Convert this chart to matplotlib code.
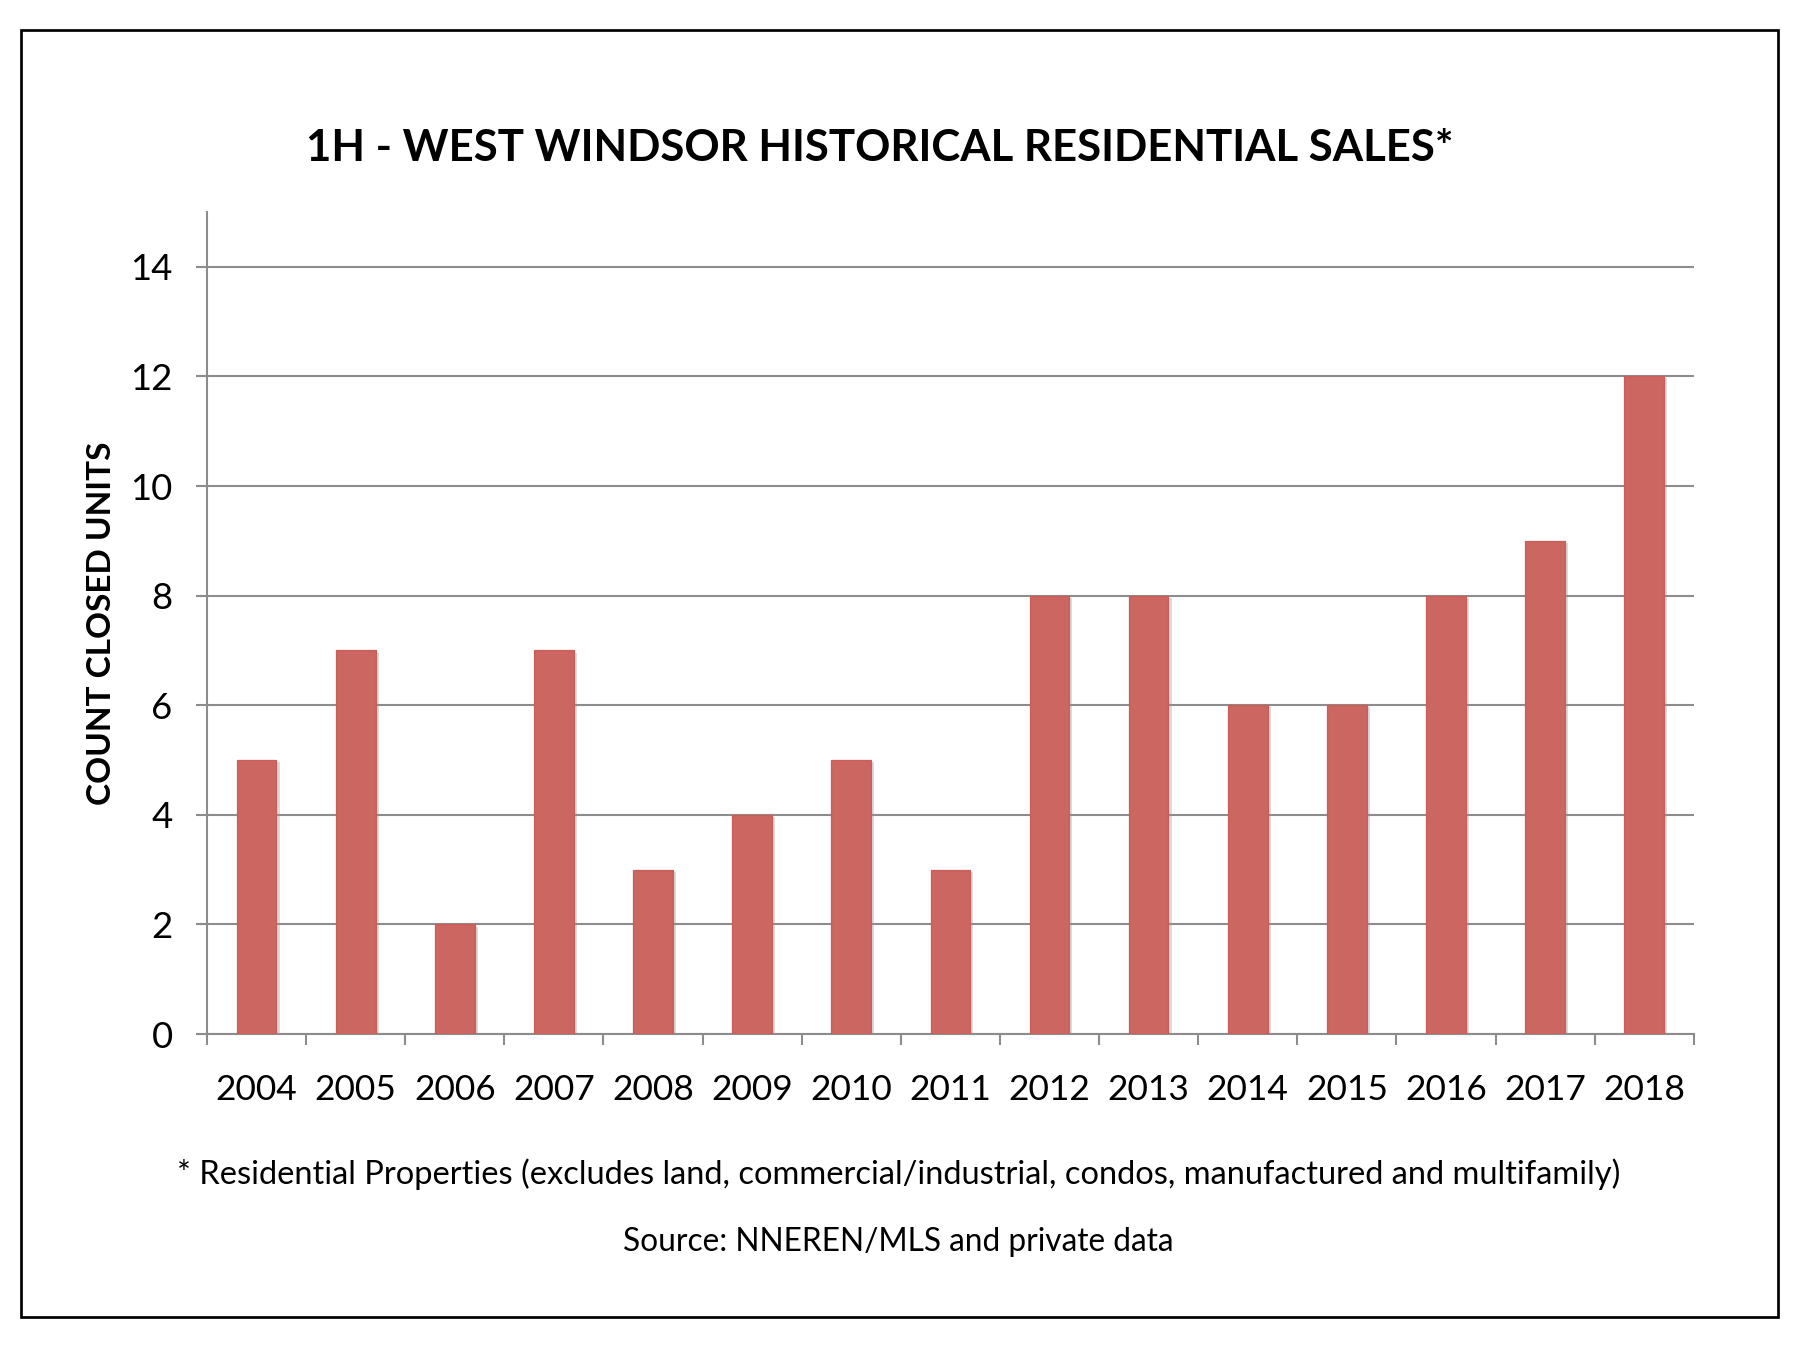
import matplotlib
matplotlib.use("Agg")
import matplotlib.pyplot as plt
import matplotlib.patheffects as pe
from matplotlib.patches import Rectangle

years = ["2004", "2005", "2006", "2007", "2008", "2009", "2010", "2011",
         "2012", "2013", "2014", "2015", "2016", "2017", "2018"]
sales = [5, 7, 2, 7, 3, 4, 5, 3, 8, 8, 6, 6, 8, 9, 12]
y_ticks = [0, 2, 4, 6, 8, 10, 12, 14]

title = "1H - WEST WINDSOR HISTORICAL RESIDENTIAL SALES*"
ylabel = "COUNT CLOSED UNITS"
footnote = "* Residential Properties (excludes land, commercial/industrial, condos, manufactured and multifamily)"
source = "Source: NNEREN/MLS and private data"

plt.rcParams['font.family'] = ['Lato', 'DejaVu Sans']

fig = plt.figure(figsize=(12, 9), dpi=150)
ax = fig.add_axes([0.115, 0.234, 0.826, 0.609])

grid_c = "#8c8c8c"
bar_c = "#cc6661"
x = list(range(len(years)))
bars = ax.bar(x, sales, width=0.4, color=bar_c, edgecolor="#c95e59", linewidth=0.6, zorder=3)
for b in bars:
    b.set_path_effects([pe.SimplePatchShadow(offset=(1.5, -1), shadow_rgbFace="#999999", alpha=0.35), pe.Normal()])

ax.set_xlim(-0.5, len(years) - 0.5)
ax.set_ylim(0, 15)
ax.set_yticks(y_ticks)
ax.set_yticklabels([str(t) for t in y_ticks])
ax.yaxis.grid(True, color=grid_c, linewidth=1.0, zorder=0)
ax.set_axisbelow(True)

ax.set_xticks([i - 0.5 for i in range(len(years) + 1)])
ax.set_xticklabels([])
ax.set_xticks(x, minor=True)
ax.set_xticklabels(years, minor=True)
ax.tick_params(axis='x', which='minor', length=0, pad=19, labelsize=17)
ax.tick_params(axis='x', which='major', length=5.5, width=1.0, color=grid_c, direction='out')
ax.tick_params(axis='y', length=5.5, width=1.0, color=grid_c, direction='out', labelsize=17.5, pad=11)

for s in ['top', 'right']:
    ax.spines[s].set_visible(False)
for s in ['left', 'bottom']:
    ax.spines[s].set_color(grid_c)
    ax.spines[s].set_linewidth(1.0)

ax.set_ylabel(ylabel, fontsize=16, fontweight='bold', labelpad=7)

fig.text(0.489, 0.8905, title, ha='center', va='center', fontsize=21, fontweight='bold')
fig.text(0.499, 0.130, footnote, ha='center', va='center', fontsize=15.7)
fig.text(0.499, 0.080, source, ha='center', va='center', fontsize=15.2)

fig.patches.append(Rectangle((21/1800, 1 - 1317/1350), (1778 - 21)/1800, (1317 - 30)/1350,
                             transform=fig.transFigure, fill=False, edgecolor='black', linewidth=1.3))

fig.savefig("out.png", dpi=150, facecolor='white')
